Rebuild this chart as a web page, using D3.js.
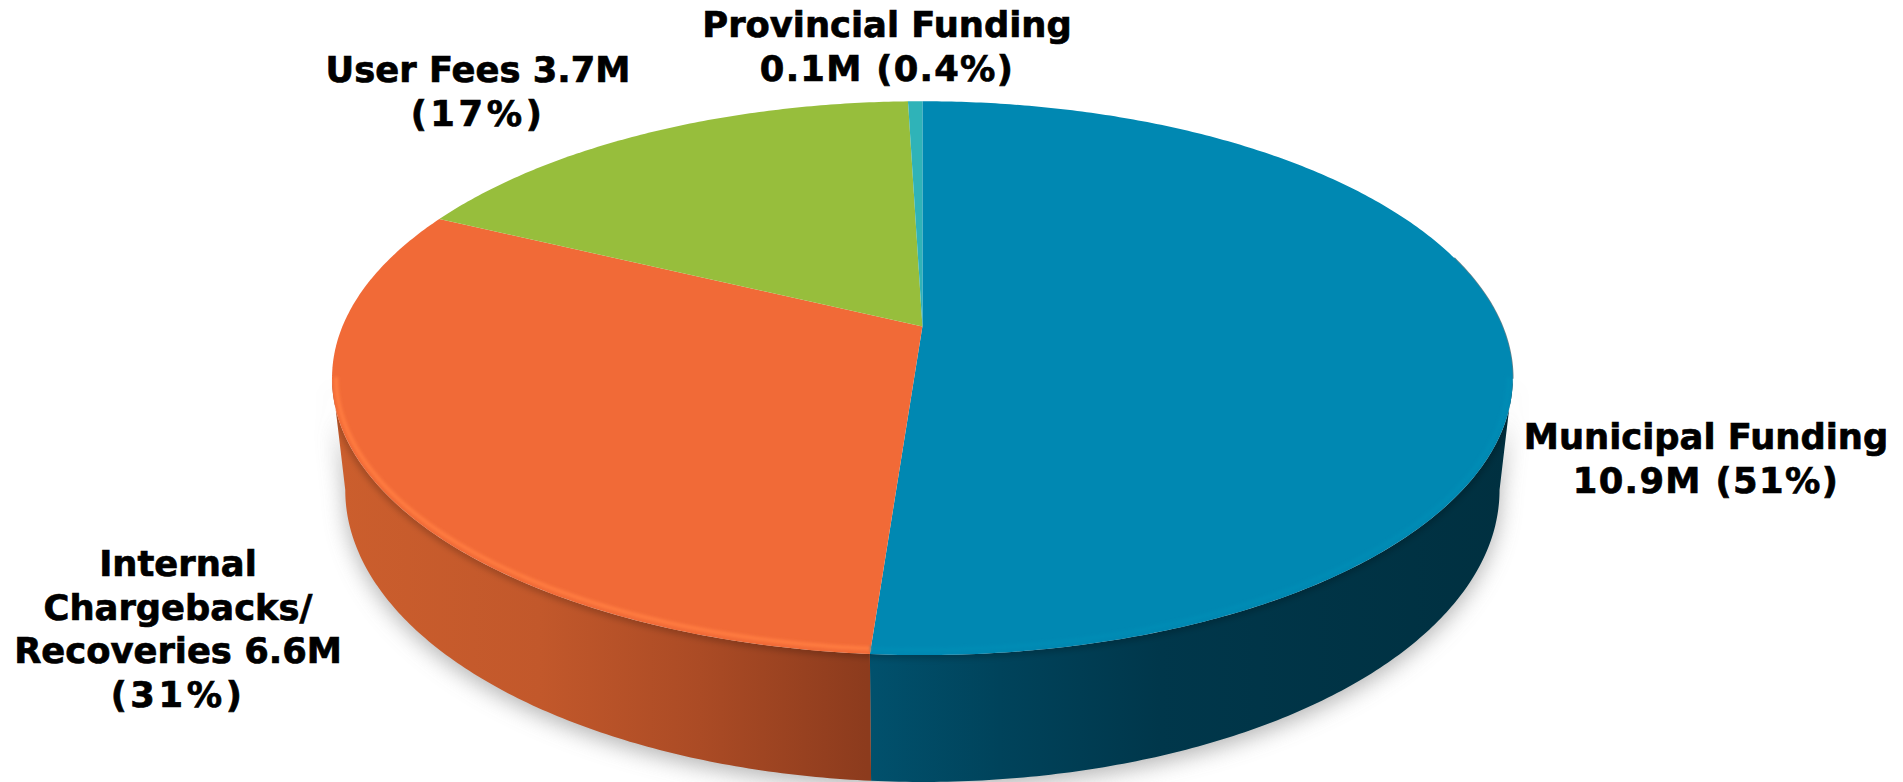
<!DOCTYPE html>
<html>
<head>
<meta charset="utf-8">
<script src="https://d3js.org/d3.v7.min.js"></script>
<style>
  html, body { margin: 0; padding: 0; background: #fff; overflow: hidden; }
  text { font-family: "DejaVu Sans", sans-serif; font-weight: bold; fill: #000; stroke: #000; stroke-width: 0.7px; }
</style>
</head>
<body>
<svg id="pieChart" width="1903" height="782"></svg>
<script>
let categories = ["Municipal Funding", "Internal Chargebacks/Recoveries", "User Fees", "Provincial Funding"];
let values = [10.9, 6.6, 3.7, 0.1];
let labelLines = [
    ["Municipal Funding", "10.9M (51%)"],
    ["Internal", "Chargebacks/", "Recoveries 6.6M", "(31%)"],
    ["User Fees 3.7M", "(17%)"],
    ["Provincial Funding", "0.1M (0.4%)"]
];
let topColours = ["#0088b2", "#f16a37", "#97be3c", "#2fb3b8"];
let rimColours = ["#058cb5", "#ff7c40", null, null];

let svg = d3.select("#pieChart"),
    defs = svg.append("defs");

// tilted disc: same perspective for both rims, bottom one a bit smaller
let k = 0.1866,
    cx = 922.4,
    topRim = {a: 580, b: 267.3, y0: 326.5},
    bottomRim = {a: 567, b: 281.8, y0: 435.5};

// angle where each rim is widest on screen, the wall's outline starts there
let sideGap = Math.asin(k),
    wallStart = Math.PI / 2 + sideGap,
    wallEnd = 3 * Math.PI / 2 - sideGap;

function project(theta, rim) {
    let u = Math.sin(theta), v = -Math.cos(theta), w = 1 - k * v;
    return [cx + rim.a * u / w, rim.y0 + rim.b * v / w];
}
function arcPoints(a0, a1, rim) {
    let n = Math.max(2, Math.ceil(Math.abs(a1 - a0) / 0.01));
    return d3.range(n + 1).map(i => project(a0 + (a1 - a0) * i / n, rim));
}
let line = d3.line();
let pie = d3.pie().sort(null).value(d => d);
let slices = pie(values);

let blur = (id, sd) => defs.append("filter")
    .attr("id", id)
    .attr("x", "-20%").attr("y", "-20%").attr("width", "140%").attr("height", "140%")
    .append("feGaussianBlur").attr("stdDeviation", sd);
blur("shadowBlur", 11);
blur("rimBlur", 1.6);
blur("edgeBlur", 3);

function wallGradient(id, stops) {
    let g = defs.append("linearGradient")
        .attr("id", id)
        .attr("gradientUnits", "userSpaceOnUse")
        .attr("x1", 340).attr("x2", 1510).attr("y1", 0).attr("y2", 0);
    stops.forEach(s => g.append("stop").attr("offset", (s[0] - 340) / 1170).attr("stop-color", s[1]));
}
wallGradient("wall0", [[867, "#01516d"], [1000, "#00435b"], [1160, "#00374b"], [1510, "#003040"]]);
wallGradient("wall1", [[340, "#cb5e2d"], [540, "#c2582b"], [700, "#ab4b25"], [867, "#8c3b1d"]]);

let hull = arcPoints(wallStart, wallEnd, topRim)
    .concat(arcPoints(wallEnd, wallStart, bottomRim));

// soft shadow under the disc
svg.append("path")
    .attr("d", line(hull) + "Z")
    .attr("transform", "translate(0,6)")
    .attr("fill", "#9a9a9a")
    .attr("opacity", 0.75)
    .attr("filter", "url(#shadowBlur)");

defs.append("clipPath").attr("id", "hullClip")
    .append("path").attr("d", line(hull) + "Z");

// side wall, only the two front slices show
let front = [
    {i: 0, a0: wallStart, a1: slices[0].endAngle},
    {i: 1, a0: slices[1].startAngle, a1: wallEnd}
];
svg.selectAll("path.wall")
    .data(front)
    .enter()
    .append("path")
    .attr("class", "wall")
    .attr("d", d => line(arcPoints(d.a0, d.a1, topRim).concat(arcPoints(d.a1, d.a0, bottomRim))) + "Z")
    .attr("fill", d => `url(#wall${d.i})`);

// dark line where the wall meets the rim
let shade = svg.append("g").attr("clip-path", "url(#hullClip)");
shade.append("path")
    .attr("d", line(arcPoints(wallStart, wallEnd, topRim)))
    .attr("fill", "none")
    .attr("stroke", "#000")
    .attr("stroke-opacity", 0.22)
    .attr("stroke-width", 7)
    .attr("filter", "url(#edgeBlur)");

// thin dark fringe on the upper right edge
svg.append("path")
    .attr("d", line(arcPoints(1.3, wallStart, topRim)))
    .attr("fill", "none")
    .attr("stroke", "#00303f")
    .attr("stroke-opacity", 0.6)
    .attr("stroke-linecap", "round")
    .attr("stroke-width", 1.5);

// top face
svg.selectAll("path.slice")
    .data(slices)
    .enter()
    .append("path")
    .attr("class", "slice")
    .attr("d", d => line([[cx, topRim.y0]].concat(arcPoints(d.startAngle, d.endAngle, topRim))) + "Z")
    .attr("fill", (d, i) => topColours[i]);

// lighter bevel on the front edge of the top face
let insetRim = {a: topRim.a - 4, b: topRim.b - 4, y0: topRim.y0 - 0.5};
svg.selectAll("path.rim")
    .data(front)
    .enter()
    .append("path")
    .attr("class", "rim")
    .attr("d", d => line(arcPoints(d.a0, d.a1, insetRim)))
    .attr("fill", "none")
    .attr("stroke", d => rimColours[d.i])
    .attr("stroke-width", 4)
    .attr("filter", "url(#rimBlur)");

// labels, the brackets and percent signs need extra room in this font
let labelPos = [[1706, 449], [178, 576], [478, 82], [887, 37]];
let labelSpacing = [[0, 1.4], [0, 0, 0, 3.6], [0, 3.6], [0, 1.3]];
let labels = svg.selectAll("text.label")
    .data(labelLines)
    .enter()
    .append("text")
    .attr("class", "label")
    .attr("text-anchor", "middle")
    .attr("font-size", 35.3)
    .attr("transform", (d, i) => `translate(${labelPos[i]})`);
labels.each(function(lines, n) {
    d3.select(this).selectAll("tspan")
        .data(lines)
        .enter()
        .append("tspan")
        .attr("x", 0)
        .attr("y", (d, i) => i * 43.7)
        .attr("letter-spacing", (d, i) => labelSpacing[n][i])
        .text(d => d);
});
</script>
</body>
</html>
